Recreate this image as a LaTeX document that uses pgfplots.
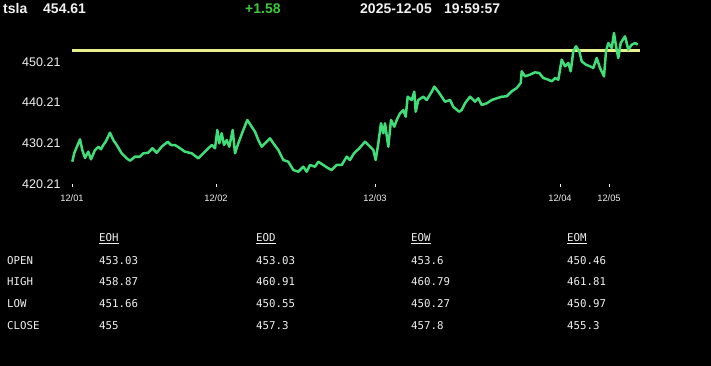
\documentclass[border=0pt]{standalone}
\usepackage{pgfplots}
\pgfplotsset{compat=1.18}
\usepackage{pgfplotstable}
\usepackage{fontspec}
\setmainfont{Liberation Sans}
\newfontfamily\monofont{DejaVu Sans Mono}
\definecolor{linegreen}{RGB}{64,222,120}
\definecolor{refyellow}{RGB}{232,240,140}
\definecolor{upgreen}{RGB}{60,200,60}
\definecolor{txt}{RGB}{240,240,240}

\pgfplotstableread{
x y
72.3 425.69
74.3 427.83
80.0 431.19
82.3 428.56
85.0 426.60
88.3 428.15
91.0 426.28
95.0 428.56
98.3 429.37
101.0 428.74
103.3 429.79
105.7 430.60
110.0 432.81
113.3 431.02
116.7 429.79
121.7 427.75
126.7 426.52
130.0 425.93
135.0 426.92
140.0 426.92
143.3 427.75
148.3 427.90
152.3 428.98
156.7 427.90
161.7 429.37
167.7 430.60
171.0 429.79
175.0 429.79
180.0 428.98
185.0 428.15
191.7 427.75
198.3 426.52
203.3 427.75
208.3 428.98
212.0 429.79
215.0 428.98
217.3 433.48
219.3 430.21
221.7 432.67
224.0 429.79
226.7 431.02
229.3 429.37
232.7 433.48
235.0 427.75
238.3 430.21
243.3 433.48
247.3 435.93
251.7 434.29
255.0 433.06
258.3 431.02
261.7 429.37
266.7 430.60
270.0 431.44
273.3 430.21
278.3 428.56
283.3 426.11
288.3 425.69
293.3 423.65
298.3 423.23
303.3 424.46
306.7 423.23
310.0 424.88
315.0 424.46
318.3 425.69
323.3 424.88
328.3 424.07
331.7 423.65
336.7 424.88
341.7 424.88
346.7 426.92
350.0 426.11
354.0 427.75
359.3 428.98
365.0 430.60
370.0 429.37
373.3 428.56
375.7 426.11
378.3 430.21
381.0 435.12
383.3 432.67
385.0 435.12
388.3 429.37
391.0 435.93
394.3 434.29
396.7 435.93
400.0 437.58
403.3 438.39
405.7 436.75
407.7 441.66
411.7 440.85
414.3 442.89
415.7 437.97
418.3 440.85
423.3 441.66
426.7 440.85
431.7 442.89
434.3 444.12
438.3 442.89
441.7 441.66
445.0 440.43
450.0 440.85
453.3 439.20
459.0 437.97
461.7 438.39
465.0 440.04
470.0 441.66
475.0 440.43
478.3 441.27
481.7 439.62
486.7 440.04
491.7 440.85
496.7 441.27
501.7 441.66
506.7 441.76
511.7 442.99
516.7 443.80
520.7 445.03
521.7 447.90
525.0 446.67
530.0 447.07
535.0 447.65
539.3 447.48
543.3 446.25
548.3 445.84
551.7 445.44
555.0 446.25
558.3 445.84
561.7 450.75
565.0 449.13
568.3 449.94
570.7 447.90
573.3 452.81
576.0 454.04
579.3 452.81
581.7 450.36
586.0 449.52
590.0 449.13
593.3 448.71
596.7 451.17
600.0 448.71
604.0 446.67
606.0 452.81
608.3 454.85
611.7 453.63
614.0 457.31
616.0 454.04
618.3 451.17
620.7 454.85
625.0 456.50
628.3 453.21
631.7 454.44
635.0 454.85
637.7 454.44
}\pricedata

\begin{document}
\begin{tikzpicture}[x=1pt,y=1pt]
\fill[black] (0,0) rectangle (711,-366);
\begin{axis}[
  at={(72pt,-184pt)}, anchor=south west,
  scale only axis, width=568pt, height=154pt,
  xmin=72, xmax=640, ymin=420.21, ymax=458.05,
  axis x line=bottom, axis y line=left,
  axis line style={draw=none},
  xtick={72,216,375,560,609},
  xticklabels={12/01,12/02,12/03,12/04,12/05},
  ytick={420.21,430.21,440.21,450.21},
  yticklabels={420.21,430.21,440.21,450.21},
  tick align=outside,
  major tick length=3pt,
  xtick style={draw=txt, line width=1pt},
  ytick style={draw=none},
  xticklabel style={font=\fontsize{9.3}{10}\selectfont, text=txt, yshift=-4pt},
  yticklabel style={font=\fontsize{12.5}{14}\selectfont, text=txt, xshift=-5pt},
  /pgf/number format/assume math mode=true,
  clip=false,
]
\addplot[refyellow, line width=2.2pt] coordinates {(72,453.03) (640,453.03)};
\addplot[linegreen, line width=2.5pt, line join=round] table[x=x,y=y] {\pricedata};
\end{axis}
% header
\node[anchor=base west, inner sep=0, font=\fontsize{14}{16}\selectfont\bfseries, text=txt] at (3,-14) {tsla};
\node[anchor=base west, inner sep=0, font=\fontsize{14}{16}\selectfont\bfseries, text=txt] at (43,-14) {454.61};
\node[anchor=base west, inner sep=0, font=\fontsize{14}{16}\selectfont\bfseries, text=upgreen] at (245,-14) {+1.58};
\node[anchor=base west, inner sep=0, font=\fontsize{14}{16}\selectfont\bfseries, text=txt] at (360,-14) {2025-12-05};
\node[anchor=base west, inner sep=0, font=\fontsize{14}{16}\selectfont\bfseries, text=txt] at (444,-14) {19:59:57};
% table
\begin{scope}[every node/.style={anchor=base west, inner sep=0, font=\monofont\fontsize{10.75}{12}\selectfont, text=txt}]
\node at (99,-241.7) {\underline{EOH}};
\node at (256,-241.7) {\underline{EOD}};
\node at (411,-241.7) {\underline{EOW}};
\node at (567,-241.7) {\underline{EOM}};
\node at (7,-264) {OPEN};
\node at (7,-285.7) {HIGH};
\node at (7,-307.4) {LOW};
\node at (7,-329.1) {CLOSE};
\node at (99,-264) {453.03};
\node at (99,-285.7) {458.87};
\node at (99,-307.4) {451.66};
\node at (99,-329.1) {455};
\node at (256,-264) {453.03};
\node at (256,-285.7) {460.91};
\node at (256,-307.4) {450.55};
\node at (256,-329.1) {457.3};
\node at (411,-264) {453.6};
\node at (411,-285.7) {460.79};
\node at (411,-307.4) {450.27};
\node at (411,-329.1) {457.8};
\node at (567,-264) {450.46};
\node at (567,-285.7) {461.81};
\node at (567,-307.4) {450.97};
\node at (567,-329.1) {455.3};
\end{scope}
\pgfresetboundingbox
\path (0,0) rectangle (711,-366);
\end{tikzpicture}
\end{document}
